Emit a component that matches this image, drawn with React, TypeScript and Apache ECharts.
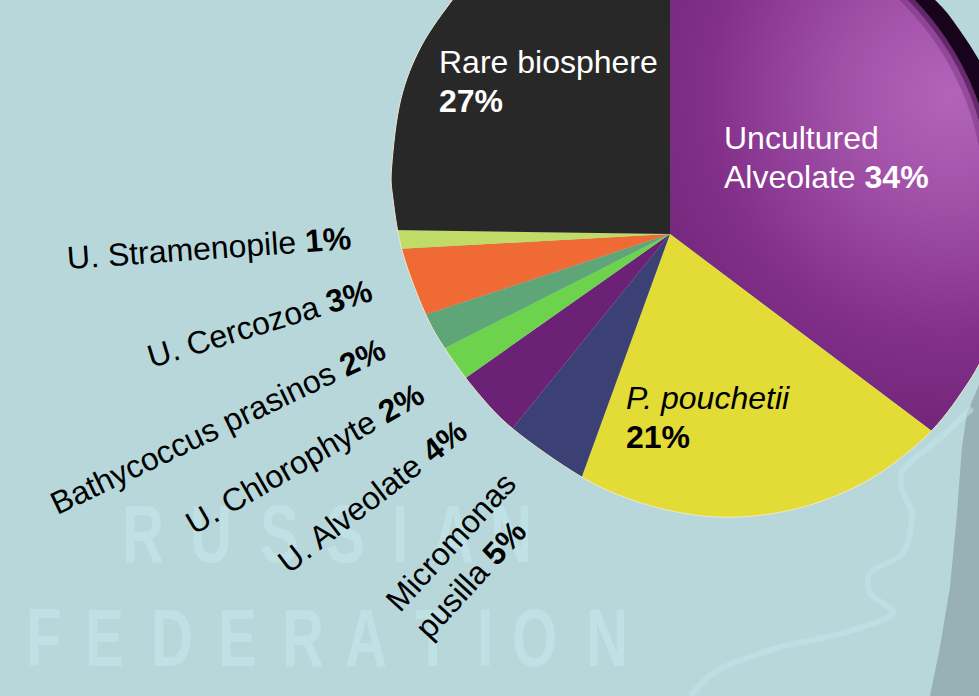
import React, { useEffect, useRef } from "react";
import * as echarts from "echarts";

const sliceNames = ["Uncultured Alveolate", "P. pouchetii", "Micromonas pusilla", "U. Alveolate", "U. Chlorophyte", "Bathycoccus prasinos", "U. Cercozoa", "U. Stramenopile", "Rare biosphere"];
// Printed percentages.
const printedPercents = [34, 21, 5, 4, 2, 2, 3, 1, 27];
// The picture's pie is drawn in perspective: these are slice shares as measured on the picture.
const drawnShares = [35.3, 20.3, 5.3, 4.4, 2.3, 2.4, 4.2, 1.1, 24.8];
const sliceColors = ["#7a2a80", "#e3dc36", "#3b4175", "#6b2175", "#6ed34c", "#5ea678", "#f06a35", "#c0dc66", "#282828"];

const russian = ["R", "U", "S", "S", "I", "A", "N"];
const russianX = [122, 190, 260, 326, 392, 432, 490];
const federation = ["F", "E", "D", "E", "R", "A", "T", "I", "O", "N"];
const federationX = [26, 85, 151, 218, 282, 345, 415, 477, 512, 586];

// Outline of the tilted pie disc in the picture, as [degrees, radius] round (708, 199);
// the background is painted around it.
const discEdgePolar = [[222, 323], [218, 324], [208, 325], [198, 323], [186, 318], [180, 315], [170, 310], [158, 305], [150, 302.5], [140, 301], [130, 301.5], [115, 305], [105, 310], [95, 315], [86, 319], [77, 321.5], [68, 323], [58, 323.5], [46, 322], [35, 318.5], [28, 316.5]];
const cornerEdgePolar = [[-52, 300.5], [-41, 302], [-35, 303], [-27, 304.6], [-20, 306]];

const BG = "#b7d7da";
const LETTER = "#c2e3e7";
const font = "'Liberation Sans', Arial, sans-serif";
const SIZE = 32;
const DX = 708, DY = 199;

const toXY = ([a, r]: number[]) => [DX + r * Math.cos((a * Math.PI) / 180), DY + r * Math.sin((a * Math.PI) / 180)];

function catmull(points: number[][]) {
  let d = `M${points[0][0]} ${points[0][1]}`;
  for (let i = 0; i < points.length - 1; i++) {
    const p0 = points[Math.max(0, i - 1)], p1 = points[i], p2 = points[i + 1], p3 = points[Math.min(points.length - 1, i + 2)];
    d += ` C${p1[0] + (p2[0] - p0[0]) / 6} ${p1[1] + (p2[1] - p0[1]) / 6} ${p2[0] - (p3[0] - p1[0]) / 6} ${p2[1] - (p3[1] - p1[1]) / 6} ${p2[0]} ${p2[1]}`;
  }
  return d;
}

echarts.graphic.registerShape("discMask", echarts.graphic.extendPath(`${catmull(discEdgePolar.map(toXY))} L1000 710 L-15 710 L-15 -30 Z`, {}));
echarts.graphic.registerShape("cornerMask", echarts.graphic.extendPath(`${catmull(cornerEdgePolar.map(toXY))} L1000 -40 Z`, {}));

function label(bx: number, by: number, deg: number, idx: number, firstLine: string, secondLine: string) {
  const th = (deg * Math.PI) / 180;
  const drop = 7;
  const pct = `{b|${printedPercents[idx]}%}`;
  const text = secondLine ? `{a|${firstLine}}\n{a|${secondLine}} ${pct}` : `{a|${firstLine}} ${pct}`;
  return {
    type: "text", x: bx + drop * Math.sin(th), y: by + drop * Math.cos(th), rotation: th, z: 10,
    style: {
      text, fill: "#000", fontFamily: font, fontSize: SIZE, align: "left", verticalAlign: "bottom", lineHeight: 40,
      rich: {
        a: { fontFamily: font, fontSize: SIZE, fill: "#000", lineHeight: 40 },
        b: { fontFamily: font, fontSize: SIZE, fontWeight: "bold", fill: "#000", lineHeight: 40 },
      },
    },
  };
}

function inner(x: number, y: number, color: string, lines: string[], italic = false) {
  return {
    type: "text", x, y, z: 10,
    style: {
      text: lines.join("\n"), fill: color, fontFamily: font, fontSize: SIZE, lineHeight: 39,
      rich: {
        n: { fontFamily: font, fontSize: SIZE, fill: color, lineHeight: 39, fontStyle: italic ? "italic" : "normal" },
        b: { fontFamily: font, fontSize: SIZE, fontWeight: "bold", fill: color, lineHeight: 39 },
      },
    },
  };
}

export default function App() {
  const ref = useRef<HTMLDivElement>(null);
  useEffect(() => {
    document.body.style.margin = "0";
    const chart = echarts.init(ref.current!, undefined, { renderer: "svg" });
    const letterStyle = (c: string) => ({ text: c, fill: LETTER, fontFamily: font, fontSize: 81, fontWeight: "bold", opacity: 0.75 });
    const letters = [
      ...russian.map((c, i) => ({ type: "text", x: russianX[i], y: 493, scaleX: 0.72, z: 5, silent: true, style: letterStyle(c) })),
      ...federation.map((c, i) => ({ type: "text", x: federationX[i], y: 597, scaleX: 0.72, z: 5, silent: true, style: letterStyle(c) })),
    ];
    const deg = Math.PI / 180;
    const rim = (r0: number, r: number, fill: string, opacity: number) => ({
      type: "sector", z: 3, silent: true,
      shape: { cx: DX, cy: DY, r0, r, startAngle: -60 * deg, endAngle: -8 * deg },
      style: { fill, opacity },
    });
    chart.setOption({
      animation: false,
      backgroundColor: BG,
      series: [{
        type: "pie", center: [670, 234], radius: [0, 420], startAngle: 90, clockwise: true, z: 1, silent: true,
        label: { show: false }, labelLine: { show: false },
        data: sliceNames.map((name, i) => ({
          name, value: drawnShares[i],
          itemStyle: {
            color: i === 0
              ? { type: "radial", global: true, x: 950, y: 95, r: 370, colorStops: [{ offset: 0, color: "#b264ba" }, { offset: 0.3, color: "#a150a8" }, { offset: 0.65, color: "#82308a" }, { offset: 1, color: "#6c2274" }] }
              : sliceColors[i],
          },
        })),
      }],
      graphic: [
        rim(276, 287, "#5a1a60", 0.3),
        rim(282, 287, "#3a0a40", 0.5),
        rim(287, 330, "#17031c", 1),
        { type: "discMask", z: 4, silent: true, style: { fill: BG, stroke: "#ece9c8", lineWidth: 1 } },
        { type: "cornerMask", z: 4, silent: true, style: { fill: BG } },
        { type: "polygon", z: 5, silent: true, shape: { points: [[979, 385], [967, 413], [962, 447], [957, 513], [950, 587], [940, 647], [930, 696], [979, 696]] }, style: { fill: "#97b1b5" } },
        { type: "polyline", z: 5, silent: true, shape: { smooth: 0.3, points: [[972, 408], [940, 438], [903, 470], [902, 490], [912, 513], [903, 553], [870, 573], [870, 593], [893, 613], [853, 630], [813, 640], [780, 647], [718, 670], [690, 696]] }, style: { stroke: LETTER, lineWidth: 6, fill: "none", opacity: 0.6 } },
        ...letters,
        inner(439, 42, "#fff", [`{n|${sliceNames[8]}}`, `{b|${printedPercents[8]}%}`]),
        inner(724, 118, "#fff", ["{n|Uncultured}", `{n|Alveolate} {b|${printedPercents[0]}%}`]),
        inner(626, 378, "#000", [`{n|${sliceNames[1]}}`, `{b|${printedPercents[1]}%}`], true),
        label(68, 271, 4, 7, sliceNames[7], ""),
        label(152, 370, 17, 6, sliceNames[6], ""),
        label(58, 517, 25.5, 5, sliceNames[5], ""),
        label(195, 537, 30, 4, sliceNames[4], ""),
        label(290, 576, 37.5, 3, sliceNames[3], ""),
        label(431, 642, 47.5, 2, "Micromonas", "pusilla"),
      ],
    });
    return () => chart.dispose();
  }, []);
  return <div ref={ref} style={{ width: 979, height: 696 }} />;
}
